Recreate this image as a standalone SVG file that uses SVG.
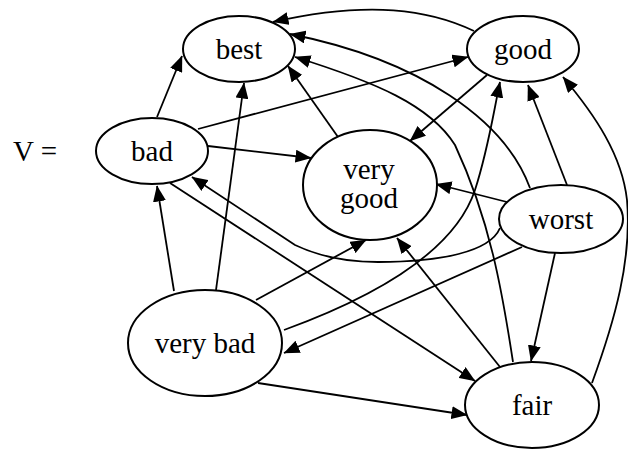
<svg xmlns="http://www.w3.org/2000/svg" width="628" height="450" viewBox="0 0 628 450">
  <style>
    .node ellipse { fill: #ffffff; stroke: #000000; stroke-width: 2; }
    text { font-family: "Times New Roman", "Liberation Serif", Tinos, "DejaVu Serif", "Noto Serif", Times, serif; font-size: 29px; fill: #000000; }
    .node text { text-anchor: middle; }
    #edges path { fill: none; stroke: #000000; stroke-width: 1.8; marker-end: url(#arrow); }
  </style>
  <defs>
    <marker id="arrow" viewBox="0 0 16 13" markerWidth="16" markerHeight="13" refX="15.5" refY="6.5" orient="auto" markerUnits="userSpaceOnUse">
      <path d="M0,0 L16,6.5 L0,13 z" fill="#000000"/>
    </marker>
  </defs>

  <rect x="0" y="0" width="628" height="450" fill="#ffffff"/>

  <text x="13" y="161">V =</text>

  <!-- connectors -->
  <g id="edges">
    <!-- bad -> best -->
    <path d="M157,117 L182,56"/>
    <!-- very bad -> best -->
    <path d="M216,290 L244,83"/>
    <!-- bad -> good -->
    <path d="M198,129 L468,57"/>
    <!-- bad -> very good -->
    <path d="M208,146 L311,158"/>
    <!-- bad -> fair -->
    <path d="M170,183 L475,381"/>
    <!-- worst -> bad -->
    <path d="M500,228 C490,252 440,262 378,262 C345,262 318,256 295,245 L192,177"/>
    <!-- very bad -> very good -->
    <path d="M256,300 L366,240"/>
    <!-- very bad -> good -->
    <path d="M284,330 C380,295 455,250 475,190 C488,150 493,115 500,82"/>
    <!-- worst -> very bad -->
    <path d="M522,247 L284,353"/>
    <!-- very bad -> fair -->
    <path d="M258,383 L467,415"/>
    <!-- worst -> fair -->
    <path d="M555,253 L531,361"/>
    <!-- fair -> very good -->
    <path d="M500,367 L397,238"/>
    <!-- fair -> best -->
    <path d="M513,362 C502,290 490,220 455,145 C430,105 375,82 295,57"/>
    <!-- worst -> best -->
    <path d="M530,188 C505,120 420,60 290,34"/>
    <!-- good -> best -->
    <path d="M474,31 C430,10 370,0 273,22"/>
    <!-- good -> very good -->
    <path d="M487,75 L410,141"/>
    <!-- worst -> very good -->
    <path d="M507,202 L436,184"/>
    <!-- worst -> good -->
    <path d="M567,185 L528,85"/>
    <!-- fair -> good -->
    <path d="M592,383 C615,320 632,260 627,200 C622,155 595,115 563,77"/>
    <!-- very good -> best -->
    <path d="M338,137 L288,66"/>
    <!-- very bad -> bad -->
    <path d="M174,291 L157,186"/>
  </g>

  <!-- nodes -->
  <g id="best" class="node">
    <ellipse cx="239" cy="49" rx="56" ry="33"/>
    <text x="239" y="59">best</text>
  </g>
  <g id="good" class="node">
    <ellipse cx="523" cy="49" rx="56" ry="33"/>
    <text x="523" y="59">good</text>
  </g>
  <g id="bad" class="node">
    <ellipse cx="152" cy="151" rx="56" ry="33"/>
    <text x="152" y="161">bad</text>
  </g>
  <g id="very_good" class="node">
    <ellipse cx="370" cy="185" rx="67" ry="55"/>
    <text x="369" y="179">very</text>
    <text x="369" y="208">good</text>
  </g>
  <g id="worst" class="node">
    <ellipse cx="561" cy="219" rx="62" ry="34"/>
    <text x="561" y="229">worst</text>
  </g>
  <g id="very_bad" class="node">
    <ellipse cx="205" cy="343" rx="77" ry="53"/>
    <text x="205" y="353">very bad</text>
  </g>
  <g id="fair" class="node">
    <ellipse cx="532" cy="405" rx="67" ry="43"/>
    <text x="532" y="415">fair</text>
  </g>
</svg>
